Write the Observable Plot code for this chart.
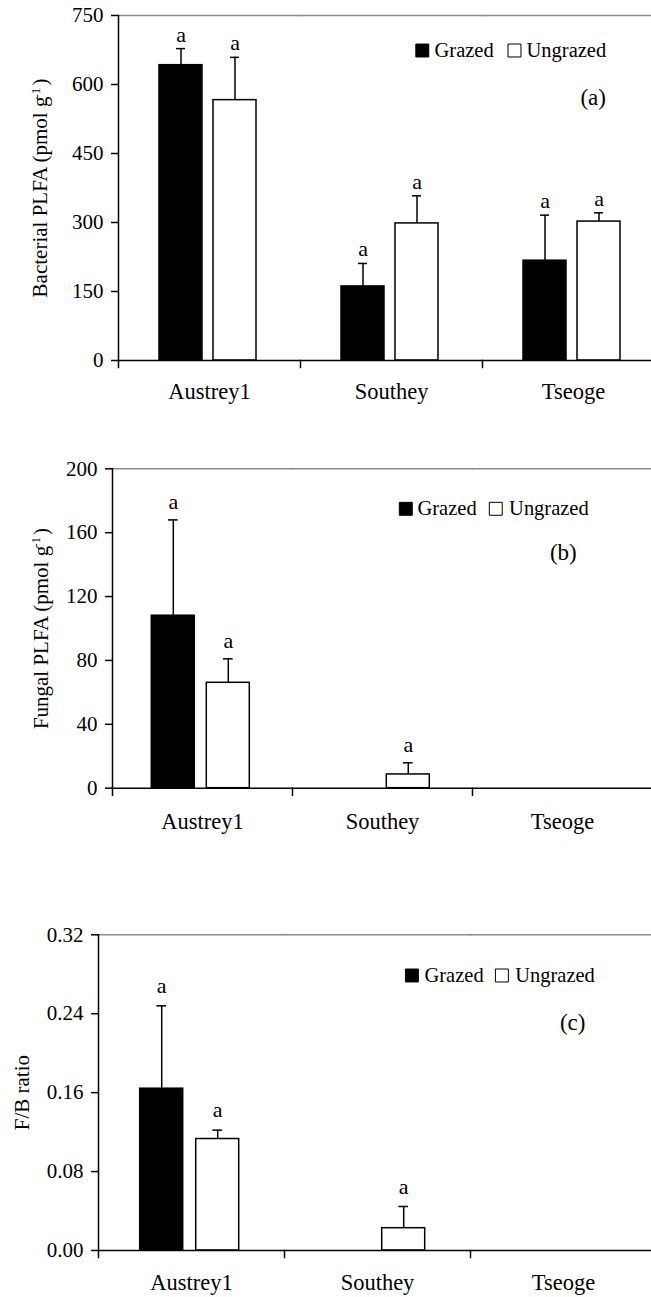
<!DOCTYPE html>
<html>
<head>
<meta charset="utf-8">
<script src="https://cdn.jsdelivr.net/npm/d3@7"></script>
<script src="https://cdn.jsdelivr.net/npm/@observablehq/plot@0.6"></script>
<style>
  html, body { margin: 0; padding: 0; background: white; }
  #wrap { position: relative; width: 651px; height: 1297px; overflow: hidden; background: white; }
  #wrap svg { position: absolute; left: 0; }
</style>
</head>
<body>
<div id="wrap"></div>
<script>
// ---- Data ----
const sites = ["Austrey1", "Southey", "Tseoge"];
const treatments = ["Grazed", "Ungrazed"];

// order: Austrey1 G, Austrey1 U, Southey G, Southey U, Tseoge G, Tseoge U
const bacterialMean = [642, 566, 161, 298, 217, 302];
const bacterialSE   = [36, 93, 50, 60, 99, 19];
const bacterialLetters = ["a", "a", "a", "a", "a", "a"];

const fungalMean = [108, 66, 0, 8.6, 0, 0];
const fungalSE   = [60, 15, 0, 7.3, 0, 0];
const fungalLetters = ["a", "a", "", "a", "", ""];

const ratioMean = [0.164, 0.113, 0, 0.0226, 0, 0];
const ratioSE   = [0.084, 0.009, 0, 0.022, 0, 0];
const ratioLetters = ["a", "a", "", "a", "", ""];

const bacterialTicks = [0, 150, 300, 450, 600, 750];
const fungalTicks = [0, 40, 80, 120, 160, 200];
const ratioTicks = [0, 0.08, 0.16, 0.24, 0.32];

const FONT = "'Liberation Serif', 'Times New Roman', Times, serif";

function panel(cfg) {
  const L = cfg.layout;
  const rows = [];
  sites.forEach((s, i) => treatments.forEach((t, j) => {
    const k = i * 2 + j;
    rows.push({site: s, treatment: t, mean: cfg.mean[k], se: cfg.se[k], hi: cfg.mean[k] + cfg.se[k], letter: cfg.letters[k]});
  }));
  const withErr = rows.filter(d => d.se > 0);
  const withLetter = rows.filter(d => d.letter);
  const fw = L.facetWidth;
  const step = L.barW + L.gap;
  const pi = L.gap / step;
  const po = (fw / step - 2 + pi) / 2;
  const innerH = L.height - L.marginTop - L.marginBottom;
  const first = () => sites[0];
  const capInset = (L.barW - 10) / 2;

  const marks = [
    Plot.frame({anchor: "top", stroke: "#8c8c8c", strokeWidth: 1.5}),
    Plot.frame({anchor: "left", facetAnchor: "left", stroke: "black", strokeWidth: 1.5}),
    Plot.frame({anchor: "left", insetTop: innerH, insetBottom: -7, stroke: "black", strokeWidth: 1.5}),
    Plot.axisY({ticks: cfg.ticks, tickFormat: cfg.format, tickSize: 7, tickPadding: 8, strokeWidth: 1.5, label: null, fontSize: 21}),
    Plot.barY(rows, {fx: "site", x: "treatment", y: "mean", fill: "treatment", stroke: "black", strokeWidth: 1.5}),
    Plot.ruleY([0], {stroke: "black", strokeWidth: 1.5}),
    Plot.ruleX(withErr, {fx: "site", x: "treatment", y1: "mean", y2: "hi", stroke: "black", strokeWidth: 1.5}),
    Plot.tickY(withErr, {fx: "site", x: "treatment", y: "hi", insetLeft: capInset, insetRight: capInset, stroke: "black", strokeWidth: 1.5}),
    Plot.text(withLetter, {fx: "site", x: "treatment", y: "hi", text: "letter", dy: L.letterDy, fontSize: 22, lineAnchor: "middle", fill: "black"}),
    Plot.text([cfg.ylabel], {fx: first, frameAnchor: "left", dx: L.labelDx, rotate: -90, textAnchor: "middle", lineAnchor: "middle", fontSize: 21, fill: "black"}),
    Plot.text([cfg.tag], {fx: first, frameAnchor: "top-left", dx: L.tagDx, dy: L.tagDy, textAnchor: "middle", lineAnchor: "middle", fontSize: 23, fill: "black"})
  ];
  treatments.forEach((t, i) => {
    marks.push(Plot.dot([t], {fx: first, frameAnchor: "top-left", dx: L.sqDx[i], dy: L.legendDy, symbol: "square", r: 7.3, fill: d => d, stroke: "black", strokeWidth: 1}));
    marks.push(Plot.text([t], {fx: first, frameAnchor: "top-left", dx: L.txtDx[i], dy: L.legendDy, text: d => d, textAnchor: "start", lineAnchor: "middle", fontSize: 20.5, fill: "black"}));
  });

  const svg = Plot.plot({
    width: L.marginLeft + 3 * fw,
    height: L.height,
    marginLeft: L.marginLeft, marginRight: 0, marginTop: L.marginTop, marginBottom: L.marginBottom,
    style: {fontFamily: FONT, fontSize: "22.5px", color: "black", background: "transparent", maxWidth: "none", overflow: "visible"},
    fx: {domain: sites, padding: 0, label: null, axis: "bottom", tickSize: 0, tickPadding: L.fxPad},
    x: {domain: treatments, axis: null, paddingInner: pi, paddingOuter: po, align: 0.48},
    y: {domain: cfg.domain, axis: null},
    color: {domain: treatments, range: ["black", "white"]},
    marks
  });
  svg.style.top = L.top + "px";

  // superscript in axis label
  if (cfg.sup) {
    const t = Array.from(svg.querySelectorAll("text")).find(e => e.textContent === cfg.ylabel);
    if (t) {
      const base = cfg.ylabel.replace(/-1\)$/, "");
      t.textContent = "";
      const ns = "http://www.w3.org/2000/svg";
      const a = document.createElementNS(ns, "tspan"); a.textContent = base; t.appendChild(a);
      const b = document.createElementNS(ns, "tspan"); b.textContent = "-1"; b.setAttribute("dy", "-0.55em"); b.setAttribute("dx", "-0.15em"); b.setAttribute("font-size", "0.62em"); t.appendChild(b);
      const c = document.createElementNS(ns, "tspan"); c.textContent = ")"; c.setAttribute("dy", "0.34em"); c.setAttribute("dx", "0.1em"); t.appendChild(c);
    }
  }
  return svg;
}

const wrap = document.getElementById("wrap");

wrap.appendChild(panel({
  mean: bacterialMean, se: bacterialSE, letters: bacterialLetters,
  domain: [0, 750], ticks: bacterialTicks, format: d3.format("d"),
  ylabel: "Bacterial PLFA (pmol g-1)", sup: true, tag: "(a)",
  layout: {top: 0, marginLeft: 117, facetWidth: 182.5, marginTop: 15, marginBottom: 45, height: 405,
    barW: 44, gap: 11, fxPad: 23, letterDy: -14, labelDx: -78,
    legendDy: 35, sqDx: [303.8, 396], txtDx: [316, 408], tagDx: 474.7, tagDy: 81.7}
}));

wrap.appendChild(panel({
  mean: fungalMean, se: fungalSE, letters: fungalLetters,
  domain: [0, 200], ticks: fungalTicks, format: d3.format("d"),
  ylabel: "Fungal PLFA (pmol g-1)", sup: true, tag: "(b)",
  layout: {top: 420, marginLeft: 111.7, facetWidth: 180, marginTop: 48.3, marginBottom: 45, height: 412.7,
    barW: 43.3, gap: 11.7, fxPad: 25, letterDy: -18, labelDx: -71.7,
    legendDy: 40, sqDx: [293.3, 383.3], txtDx: [305, 396.6], tagDx: 450.8, tagDy: 83.4}
}));

wrap.appendChild(panel({
  mean: ratioMean, se: ratioSE, letters: ratioLetters,
  domain: [0, 0.32], ticks: ratioTicks, format: d3.format(".2f"),
  ylabel: "F/B ratio", sup: false, tag: "(c)",
  layout: {top: 880, marginLeft: 98.3, facetWidth: 186, marginTop: 54.3, marginBottom: 47, height: 417,
    barW: 43.3, gap: 13.4, fxPad: 24, letterDy: -20, labelDx: -76.3,
    legendDy: 40.7, sqDx: [313.4, 403.4], txtDx: [326, 416.7], tagDx: 474.2, tagDy: 87.4}
}));
</script>
</body>
</html>
